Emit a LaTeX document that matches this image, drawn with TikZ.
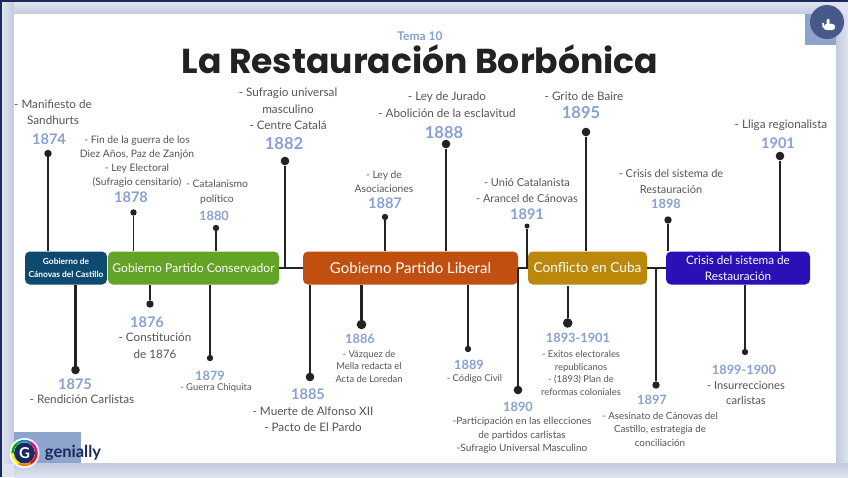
\documentclass[tikz,border=0pt]{standalone}
\usepackage{fontspec}
\setmainfont{Lato}
\newfontfamily\titlefont{Poppins}
\usetikzlibrary{calc}
\definecolor{yearblue}{HTML}{88A1D2}
\definecolor{txtgray}{HTML}{555555}
\definecolor{pagebg}{HTML}{DFE3EF}
\definecolor{pagedark}{HTML}{C3CBDF}
\definecolor{framedark}{HTML}{1B2A5C}
\definecolor{squareblue}{HTML}{8FA4CC}
\definecolor{lockblue}{HTML}{46598A}
\definecolor{inkdark}{HTML}{222222}

\begin{document}
\begin{tikzpicture}[
    x=1pt, y=-1pt,
    period/.style={rectangle, rounded corners=5pt, minimum height=33pt, align=center, text=white, inner sep=0pt},
    txtbig/.style={align=center, inner sep=0pt, text=txtgray, font=\fontsize{11.7}{16.5}\selectfont},
    txtmid/.style={align=center, inner sep=0pt, text=txtgray, font=\fontsize{10.3}{14.2}\selectfont},
    txtsmall/.style={align=center, inner sep=0pt, text=txtgray, font=\fontsize{9.4}{12.8}\selectfont},
    yearbig/.style={inner sep=0pt, text=yearblue, font=\fontsize{16.5}{16.5}\selectfont\bfseries},
    yearmid/.style={inner sep=0pt, text=yearblue, font=\fontsize{14.6}{14.6}\selectfont\bfseries},
    yearsmall/.style={inner sep=0pt, text=yearblue, font=\fontsize{12.8}{12.8}\selectfont\bfseries},
    dotbig/.style={circle, fill=inkdark, inner sep=0pt, minimum size=8.6pt},
    dotmid/.style={circle, fill=inkdark, inner sep=0pt, minimum size=7.4pt},
    dotsmall/.style={circle, fill=inkdark, inner sep=0pt, minimum size=6.4pt},
    stem/.style={draw=inkdark, line width=2.2pt},
    stemthin/.style={draw=inkdark, line width=1.9pt},
    link/.style={draw=inkdark, line width=1.6pt}
]
    % page and card
    \fill[pagebg] (0, 0) rectangle (848, 477);
    \shade[left color=pagedark, right color=pagebg] (836, 14) rectangle (848, 463);
    \shade[top color=pagedark, bottom color=pagebg] (14, 463) rectangle (848, 477);
    \shade[top color=pagebg, bottom color=pagedark] (14, 2) rectangle (836, 14);
    \shade[left color=pagebg, right color=pagedark] (2, 2) rectangle (14, 463);
    \fill[framedark] (0, 0) rectangle (848, 1.5);
    \fill[framedark] (0, 0) rectangle (1.5, 477);
    \fill[white] (14, 14) rectangle (836, 463);
    \fill[squareblue] (805, 14) rectangle (836, 45);
    \fill[squareblue] (14, 432) rectangle (81, 463);

    % title
    \node[inner sep=0pt, text=yearblue, font=\fontsize{12}{12}\selectfont\bfseries] (tema) at (420, 36) {Tema 10};
    \node[inner sep=0pt, text=inkdark, font=\fontsize{34.6}{35}\selectfont\titlefont\bfseries] (title) at (420, 59) {La Restauración Borbónica};

    % periods
    \node[period, fill={rgb,255:red,14;green,74;blue,112}, minimum width=82pt, font=\fontsize{8.4}{12.6}\selectfont\bfseries] (canovas) at (66, 268) {Gobierno de\\Cánovas del Castillo};
    \node[period, fill={rgb,255:red,99;green,163;blue,37}, minimum width=171pt, font=\fontsize{12.1}{14}\selectfont] (conservador) at (193.5, 268) {Gobierno Partido Conservador};
    \node[period, fill={rgb,255:red,192;green,79;blue,16}, minimum width=215pt, font=\fontsize{15}{17}\selectfont] (liberal) at (410.5, 268) {Gobierno Partido Liberal};
    \node[period, fill={rgb,255:red,187;green,136;blue,12}, minimum width=119pt, font=\fontsize{13.7}{17}\selectfont] (cuba) at (587.5, 268) {Conflicto en Cuba};
    \node[period, fill={rgb,255:red,42;green,16;blue,181}, minimum width=144pt, font=\fontsize{11.7}{16}\selectfont] (crisis) at (738, 268) {Crisis del sistema de\\Restauración};
    \draw[link] (conservador) -- (liberal);
    \draw[link] (liberal) -- (cuba);
    \draw[link] (cuba) -- (crisis);

    % events above the line
    \node[dotmid] (d1874) at (48, 153.5) {};
    \node[yearmid] (y1874) at (49, 139) {1874};
    \node[txtbig] (t1874) at (53, 112) {- Manifiesto de\\Sandhurts};
    \draw[stem] (d1874) -- (d1874 |- canovas.north);

    \node[dotsmall] (d1878) at (133.5, 212.5) {};
    \node[yearmid] (y1878) at (131, 197) {1878};
    \node[txtmid] (t1878) at (137, 161.5) {- Fin de la guerra de los\\Diez Años, Paz de Zanjón\\- Ley Electoral\\(Sufragio censitario)};
    \draw[stemthin] (d1878) -- (d1878 |- conservador.north);

    \node[dotsmall] (d1880) at (216, 228) {};
    \node[yearsmall] (y1880) at (214, 216) {1880};
    \node[txtmid] (t1880) at (217, 192) {- Catalanismo\\político};
    \draw[stemthin] (d1880) -- (d1880 |- conservador.north);

    \node[dotbig] (d1882) at (285, 161) {};
    \node[yearbig] (y1882) at (284, 144) {1882};
    \node[txtbig] (t1882) at (288, 109) {- Sufragio universal\\masculino\\- Centre Catalá};
    \draw[stem] (d1882) -- (d1882 |- conservador.east);

    \node[dotsmall] (d1887) at (385, 217) {};
    \node[yearmid] (y1887) at (385, 203) {1887};
    \node[txtmid] (t1887) at (384, 182) {- Ley de\\Asociaciones};
    \draw[stemthin] (d1887) -- (d1887 |- liberal.north);

    \node[dotbig] (d1888) at (446, 144) {};
    \node[yearbig] (y1888) at (444, 133) {1888};
    \node[txtbig] (t1888) at (447, 104.5) {- Ley de Jurado\\- Abolición de la esclavitud};
    \draw[stem] (d1888) -- (d1888 |- liberal.north);

    \node[circle, fill=inkdark, inner sep=0pt, minimum size=5pt] (d1891) at (527, 226) {};
    \node[yearmid] (y1891) at (527, 214) {1891};
    \node[txtmid, font=\fontsize{11}{15.2}\selectfont] (t1891) at (527, 190.5) {- Unió Catalanista\\- Arancel de Cánovas};
    \draw[stemthin] (d1891) -- (d1891 |- liberal.east);

    \node[dotbig] (d1895) at (586, 132) {};
    \node[yearbig] (y1895) at (581, 113) {1895};
    \node[txtbig] (t1895) at (584, 96) {- Grito de Baire};
    \draw[stem] (d1895) -- (d1895 |- cuba.north);

    \node[dotmid] (d1898) at (668, 220) {};
    \node[yearsmall] (y1898) at (666, 204) {1898};
    \node[txtmid, font=\fontsize{11}{16}\selectfont] (t1898) at (671, 181) {- Crisis del sistema de\\Restauración};
    \draw[stemthin] (d1898) -- (d1898 |- crisis.north);

    \node[dotbig] (d1901) at (780, 156) {};
    \node[yearmid] (y1901) at (778, 143) {1901};
    \node[txtbig] (t1901) at (781, 125) {- Lliga regionalista};
    \draw[stem] (d1901) -- (d1901 |- crisis.north);

    % events below the line
    \node[dotbig] (d1875) at (75.5, 370) {};
    \node[yearmid] (y1875) at (75, 384) {1875};
    \node[txtbig] (t1875) at (82, 399) {- Rendición Carlistas};
    \draw[stem] (d1875) -- (d1875 |- canovas.south);

    \node[dotmid] (d1876) at (150, 304) {};
    \node[yearmid] (y1876) at (147, 322) {1876};
    \node[txtbig] (t1876) at (155, 346) {- Constitución\\de 1876};
    \draw[stem] (d1876) -- (d1876 |- conservador.south);

    \node[dotsmall] (d1879) at (210, 358) {};
    \node[yearsmall] (y1879) at (210, 375.5) {1879};
    \node[txtsmall] (t1879) at (216, 388) {- Guerra Chiquita};
    \draw[stemthin] (d1879) -- (d1879 |- conservador.south);

    \node[dotbig] (d1885) at (310, 377) {};
    \node[yearmid] (y1885) at (308, 394) {1885};
    \node[txtbig] (t1885) at (313, 419) {- Muerte de Alfonso XII\\- Pacto de El Pardo};
    \draw[stem] (d1885) -- (d1885 |- liberal.south);

    \node[circle, fill=inkdark, inner sep=0pt, minimum size=9.6pt] (d1886) at (361.5, 324.5) {};
    \node[yearsmall] (y1886) at (360, 339) {1886};
    \node[txtsmall] (t1886) at (369, 366.5) {- Vázquez de\\Mella redacta el\\Acta de Loredan};
    \draw[stem] (d1886) -- (d1886 |- liberal.south);

    \node[dotsmall] (d1889) at (468, 349) {};
    \node[yearsmall] (y1889) at (469, 365) {1889};
    \node[txtsmall] (t1889) at (474.5, 379) {- Código Civil};
    \draw[stemthin] (d1889) -- (d1889 |- liberal.south);

    \node[dotbig] (d1890) at (518, 390) {};
    \node[yearsmall] (y1890) at (518, 406.5) {1890};
    \node[txtmid, font=\fontsize{10}{13.5}\selectfont] (t1890) at (522, 435.5) {-Participación en las ellecciones\\de partidos carlistas\\-Sufragio Universal Masculino};
    \draw[stem] (d1890) -- (d1890 |- liberal.east);

    \node[circle, fill=inkdark, inner sep=0pt, minimum size=9.6pt] (d1893) at (567.7, 323) {};
    \node[yearsmall] (y1893) at (578, 338) {1893-1901};
    \node[txtsmall] (t1893) at (581, 373) {- Exitos electorales\\republicanos\\- (1893) Plan de\\reformas coloniales};
    \draw[stem] (d1893) -- ($(d1893 |- cuba.south)+(0, 1)$);

    \node[dotmid] (d1897) at (656, 385) {};
    \node[yearsmall] (y1897) at (652, 400) {1897};
    \node[txtmid, font=\fontsize{9.8}{13.7}\selectfont] (t1897) at (660, 429.3) {- Asesinato de Cánovas del\\Castillo, estrategia de\\conciliación};
    \draw[stemthin] (d1897) -- (d1897 |- cuba.east);

    \node[dotsmall] (d1899) at (745, 352) {};
    \node[yearsmall] (y1899) at (744, 369.5) {1899-1900};
    \node[txtmid, font=\fontsize{11.2}{15}\selectfont] (t1899) at (746, 392.5) {- Insurrecciones\\carlistas};
    \draw[stemthin] (d1899) -- (d1899 |- crisis.south);

    % genially badge
    \fill[white] (24.5, 453) circle (15);
    \foreach \c/\a in {red/0, orange/60, yellow/120, green!70!black/180, cyan!70!blue/240, magenta/300}
        \draw[\c, line width=2.4pt] (24.5, 453) ++(\a:12) arc[start angle=\a, delta angle=61, radius=12];
    \fill[framedark] (24.5, 453) circle (10.5);
    \node[inner sep=0pt, text=white, font=\fontsize{15}{15}\selectfont\bfseries] (logoG) at (24.5, 453) {G};
    \node[inner sep=0pt, text=framedark, font=\fontsize{16.5}{16.5}\selectfont\bfseries] (genially) at (73, 453) {genially};

    % lock button
    \fill[lockblue] (827, 22) circle (17);
    \draw[white, line width=1.6pt] (823, 23) arc[start angle=200, delta angle=-210, radius=4.5];
    \fill[white, rounded corners=1.5pt] (826.5, 18.5) rectangle (829.5, 27);
    \fill[white, rounded corners=2.5pt] (824, 24) rectangle (835, 30);
\end{tikzpicture}
\end{document}
